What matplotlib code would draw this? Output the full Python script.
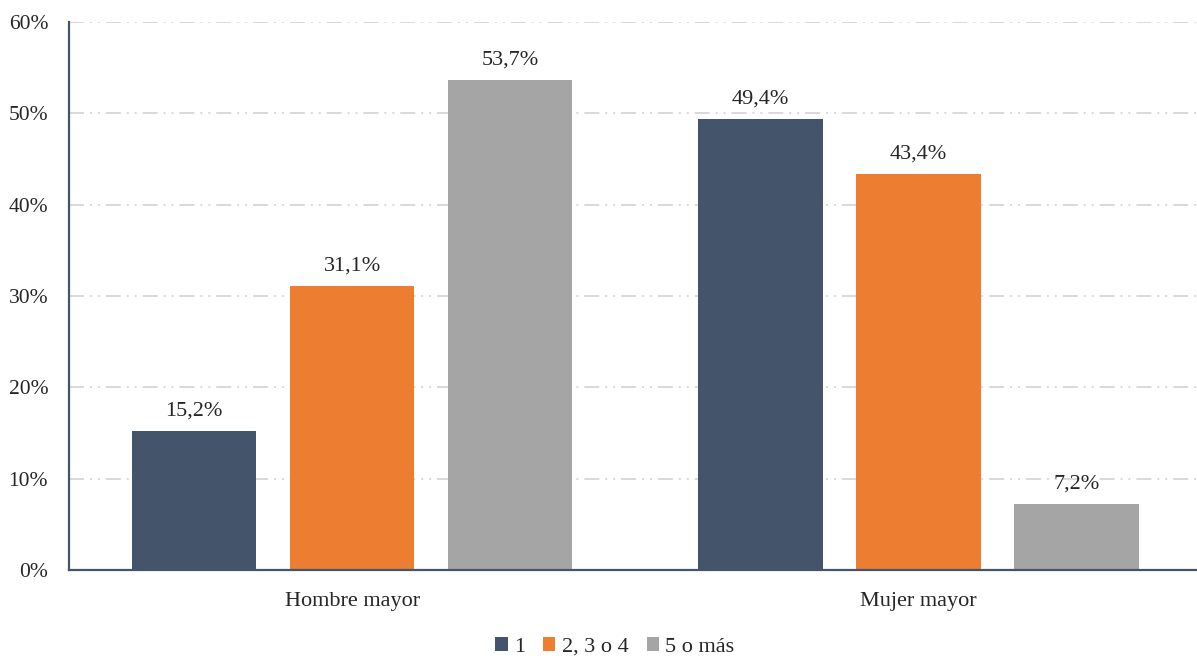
import matplotlib
matplotlib.use("Agg")
import matplotlib.pyplot as plt
import numpy as np

plt.rcParams['font.family'] = ['Liberation Serif', 'DejaVu Serif']
plt.rcParams['lines.scale_dashes'] = False

categories = ["Hombre mayor", "Mujer mayor"]
series_names = ["1", "2, 3 o 4", "5 o más"]
values_1 = [15.2, 49.4]
values_234 = [31.1, 43.4]
values_5plus = [53.7, 7.2]
y_ticks = [0, 10, 20, 30, 40, 50, 60]

series = [values_1, values_234, values_5plus]
colors = ["#44546A", "#ED7D31", "#A5A5A5"]

fig = plt.figure(figsize=(11.97, 6.59), dpi=100)
ax = fig.add_axes([69 / 1197, 89 / 659, (1197 - 69) / 1197, (570 - 22) / 659])

x = np.arange(len(categories))
width = 0.22
step = 0.279
for i, (vals, col) in enumerate(zip(series, colors)):
    pos = x + (i - 1) * step
    bars = ax.bar(pos, vals, width, color=col, label=series_names[i], zorder=2)
    for b, v in zip(bars, vals):
        ax.annotate(f"{v:.1f}".replace(".", ",") + "%",
                    (b.get_x() + b.get_width() / 2, v),
                    xytext=(0, 7.5), textcoords="offset points",
                    ha="center", va="bottom", fontsize=16, color="#262626", zorder=4)

ax.set_xlim(-0.5, 1.492)
ax.set_ylim(0, 60)
ax.set_yticks(y_ticks)
ax.set_yticklabels([f"{t}%" for t in y_ticks])
ax.set_xticks(x)
ax.set_xticklabels(categories)
ax.tick_params(axis="y", length=0, pad=15, labelsize=15.5, labelcolor="#262626")
ax.tick_params(axis="x", length=0, pad=16, labelsize=16, labelcolor="#262626")

ax.yaxis.grid(True, color="#D9D9D9", linewidth=1.4,
              linestyle=(0, (10.8, 4.3, 1.4, 4.3, 1.4, 4.3)), zorder=0)
ax.set_axisbelow(True)

for s in ["top", "right"]:
    ax.spines[s].set_visible(False)
for s in ["left", "bottom"]:
    ax.spines[s].set_color("#44546A")
    ax.spines[s].set_linewidth(1.6)

fig.legend(loc="center", bbox_to_anchor=(615 / 1197, 12 / 659), ncol=3,
           frameon=False, fontsize=16, handlelength=0.55, handleheight=0.55,
           handletextpad=0.3, columnspacing=0.8, labelcolor="#262626")

fig.savefig("out.png", dpi=100)
